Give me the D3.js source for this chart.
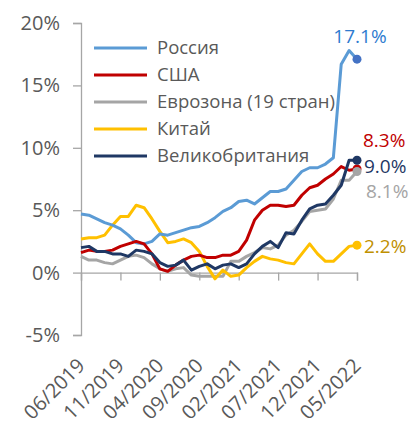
<!DOCTYPE html>
<html>
<head>
<meta charset="utf-8">
<script src="https://cdn.jsdelivr.net/npm/d3@7"></script>
<style>
  body { margin: 0; background: #fff; }
  svg text { font-family: "Open Sans", sans-serif; }
</style>
</head>
<body>
<div id="grafico"></div>
<script>
const meses = ["06/2019","07/2019","08/2019","09/2019","10/2019","11/2019","12/2019",
  "01/2020","02/2020","03/2020","04/2020","05/2020","06/2020","07/2020","08/2020","09/2020","10/2020","11/2020","12/2020",
  "01/2021","02/2021","03/2021","04/2021","05/2021","06/2021","07/2021","08/2021","09/2021","10/2021","11/2021","12/2021",
  "01/2022","02/2022","03/2022","04/2022","05/2022"];
const etiquetas_x = ["06/2019","11/2019","04/2020","09/2020","02/2021","07/2021","12/2021","05/2022"];
const ticks_y = [-5, 0, 5, 10, 15, 20];

const rusia = [4.7,4.6,4.3,4.0,3.8,3.5,3.0,2.4,2.3,2.5,3.1,3.0,3.2,3.4,3.6,3.7,4.0,4.4,4.9,5.2,5.7,5.8,5.5,6.0,6.5,6.5,6.7,7.4,8.1,8.4,8.4,8.7,9.2,16.7,17.8,17.1];
const usa = [1.6,1.8,1.7,1.7,1.8,2.1,2.3,2.5,2.3,1.5,0.3,0.1,0.6,1.0,1.3,1.4,1.2,1.2,1.4,1.4,1.7,2.6,4.2,5.0,5.4,5.4,5.3,5.4,6.2,6.8,7.0,7.5,7.9,8.5,8.2,8.3];
const eurozona = [1.3,1.0,1.0,0.8,0.7,1.0,1.3,1.4,1.2,0.7,0.3,0.1,0.3,0.4,-0.2,-0.3,-0.3,-0.3,-0.3,0.9,0.9,1.3,1.6,2.0,1.9,2.2,3.0,3.4,4.1,4.9,5.0,5.1,5.9,7.4,7.4,8.1];
const china = [2.7,2.8,2.8,3.0,3.8,4.5,4.5,5.4,5.2,4.3,3.3,2.4,2.5,2.7,2.4,1.7,0.5,-0.5,0.2,-0.3,-0.2,0.4,0.9,1.3,1.1,1.0,0.8,0.7,1.5,2.3,1.5,0.9,0.9,1.5,2.1,2.2];
const uk = [2.0,2.1,1.7,1.7,1.5,1.5,1.3,1.8,1.7,1.5,0.8,0.5,0.6,1.0,0.2,0.5,0.7,0.3,0.6,0.7,0.4,0.7,1.5,2.1,2.5,2.0,3.2,3.1,4.2,5.1,5.4,5.5,6.2,7.0,9.0,9.0];

const nombres = ["Россия","США","Еврозона (19 стран)","Китай","Великобритания"];
const etiquetas_fin = ["17.1%","8.3%","8.1%","2.2%","9.0%"];

const series = [
  {nombre: nombres[0], valores: rusia, color: "#5B9BD5", punto: "#4472C4", texto: "#2E7BCF", dx: 3, dy: -16, anchor: "middle"},
  {nombre: nombres[1], valores: usa, color: "#C00000", punto: "#C00000", texto: "#C00000", dx: 6, dy: -22, anchor: "start"},
  {nombre: nombres[2], valores: eurozona, color: "#A5A5A5", punto: "#A5A5A5", texto: "#A5A5A5", dx: 9, dy: 26, anchor: "start"},
  {nombre: nombres[3], valores: china, color: "#FFC000", punto: "#FFC000", texto: "#BF9000", dx: 7, dy: 3, anchor: "start"},
  {nombre: nombres[4], valores: uk, color: "#1F3864", punto: "#1F3864", texto: "#1F3864", dx: 7, dy: 13, anchor: "start"}
];
series.forEach((s, i) => s.etiqueta = etiquetas_fin[i]);

const ancho = 409, alto = 425;
const svg = d3.select("#grafico").append("svg")
    .attr("width", ancho)
    .attr("height", alto);

const x = d3.scaleLinear().domain([0, meses.length - 1]).range([81, 357]);
const y = d3.scaleLinear().domain([-5, 20]).range([335, 23]);

const gris = "#A6A6A6";
const texto_gris = "#595959";

// eje y
const eje_y = svg.append("g")
    .attr("transform", "translate(81,0)")
    .call(d3.axisLeft(y).tickValues(ticks_y).tickSize(8).tickPadding(13).tickFormat(d => d + "%"));
eje_y.select(".domain").attr("stroke", gris).attr("stroke-width", 1.3);
eje_y.selectAll(".tick line").attr("stroke", gris).attr("stroke-width", 1.3);
eje_y.selectAll("text").attr("fill", texto_gris).style("font-size", "20px");

// eje x en el cero
const eje_x = svg.append("g")
    .attr("transform", `translate(0,${y(0)})`)
    .call(d3.axisBottom(x)
      .tickValues(etiquetas_x.map(m => meses.indexOf(m)))
      .tickSize(8)
      .tickFormat(""));
eje_x.select(".domain").attr("stroke", gris).attr("stroke-width", 1.3);
eje_x.selectAll(".tick line").attr("stroke", gris).attr("stroke-width", 1.3);

// etiquetas x abajo, rotadas
svg.append("g").selectAll("text")
    .data(etiquetas_x)
    .join("text")
    .attr("transform", d => `translate(${x(meses.indexOf(d)) + 5},${y(-5) + 32}) rotate(-45)`)
    .attr("text-anchor", "end")
    .attr("fill", texto_gris)
    .style("font-size", "20px")
    .text(d => d);

// lineas
const linea = d3.line()
    .x((d, i) => x(i))
    .y(d => y(d));

const orden = [2, 3, 0, 1, 4];
svg.append("g").selectAll("path")
    .data(orden.map(i => series[i]))
    .join("path")
    .attr("d", d => linea(d.valores))
    .attr("fill", "none")
    .attr("stroke", d => d.color)
    .attr("stroke-width", 3)
    .attr("stroke-linejoin", "round");

// puntos finales
const ultimo = meses.length - 1;
svg.append("g").selectAll("circle")
    .data([1, 2, 3, 0, 4].map(i => series[i]))
    .join("circle")
    .attr("cx", x(ultimo))
    .attr("cy", d => y(d.valores[ultimo]))
    .attr("r", 4.5)
    .attr("fill", d => d.punto);

svg.append("g").selectAll("text")
    .data(series)
    .join("text")
    .attr("x", d => x(ultimo) + d.dx)
    .attr("y", d => y(d.valores[ultimo]) + d.dy)
    .attr("text-anchor", d => d.anchor)
    .attr("dominant-baseline", d => d.nombre === "Китай" ? "middle" : "auto")
    .attr("fill", d => d.texto)
    .style("font-size", "19px")
    .text(d => d.etiqueta);

// leyenda
const leyenda = svg.append("g").attr("transform", "translate(94,48)");
const items = leyenda.selectAll("g")
    .data(series)
    .join("g")
    .attr("transform", (d, i) => `translate(0,${i * 27})`);
items.append("line")
    .attr("x1", 0).attr("x2", 53)
    .attr("stroke", d => d.color)
    .attr("stroke-width", 3);
items.append("text")
    .attr("x", 63)
    .attr("dy", "0.35em")
    .attr("fill", texto_gris)
    .style("font-size", "18.5px")
    .text(d => d.nombre);
</script>
</body>
</html>
